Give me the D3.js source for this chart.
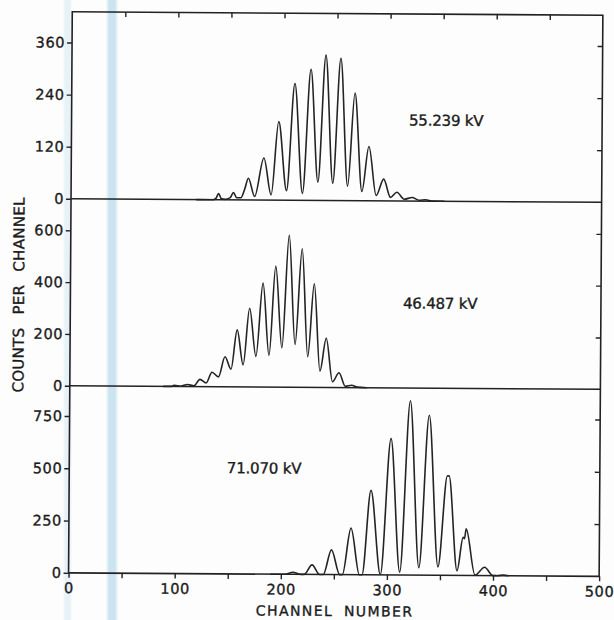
<!DOCTYPE html>
<html>
<head>
<meta charset="utf-8">
<script src="https://cdn.jsdelivr.net/npm/d3@7"></script>
<style>
  html, body { margin: 0; padding: 0; background: #ffffff; }
  svg { display: block; }
  text { font-family: "DejaVu Sans", "Liberation Sans", sans-serif; fill: #1b1b1b;
         stroke: #1b1b1b; stroke-width: 0.35px; }
</style>
</head>
<body>
<svg id="chart" width="614" height="620"></svg>
<script>
// ---- channel axis ----
const channelTicks = [0, 50, 100, 150, 200, 250, 300, 350, 400, 450, 500];
const channelLabels = [0, 100, 200, 300, 400, 500];

// ---- 55.239 kV spectrum ----
const spec55Channels = [118, 134, 136.5, 139, 141.5, 145, 150, 153, 156, 160, 163.5, 167, 173,
  181.5, 188.5, 195.3, 203, 210.3, 218, 225.4, 232.5, 239.4, 246.5, 253.5, 260.5, 267, 274,
  280.4, 287.5, 294.5, 301, 307, 314, 321.4, 328, 334, 341, 352];
const spec55Counts = [0, 0, 3, 14, 3, 1, 5, 17, 5, 5, 24, 50, 8,
  97, 12, 181, 22, 269, 16, 302, 42, 335, 40, 328, 33, 248, 21,
  125, 12, 50, 8, 20, 4, 8, 2, 3, 0, 0];
const spec55Ticks = [0, 120, 240, 360];

// ---- 46.487 kV spectrum ----
const spec46Channels = [88, 95, 98.4, 104.5, 110.9, 117, 122.6, 128.5, 133.9, 140, 146.1, 151.8,
  157.4, 163.2, 169, 175.2, 181.5, 187.5, 193.4, 199.6, 205.9, 212, 218.2, 224, 229.8, 235.6,
  241.4, 247.5, 253.6, 259.6, 265.6, 271, 280];
const spec46Counts = [0, 0, 4, 1, 8, 3, 28, 14, 56, 38, 116, 68,
  220, 85, 304, 118, 401, 122, 467, 152, 586, 165, 535, 118, 400, 63,
  190, 22, 57, 5, 9, 2, 0];
const spec46Ticks = [0, 200, 400, 600];

// ---- 71.070 kV spectrum ----
const spec71Channels = [190, 204, 211.4, 218.5, 222, 229.4, 236.5, 240, 247.6, 255.5, 258, 265.9,
  274, 276.5, 284.5, 293.8, 303.1, 312, 321.1, 330, 339, 348, 356.4, 358, 366, 371.6, 372.9,
  374.4, 383, 392, 400, 404, 409.5, 415];
const spec71Counts = [0, 0, 10, 0, 0, 46, 0, 0, 118, 0, 0, 223,
  0, 0, 404, 2, 652, 14, 834, 36, 765, 40, 476, 476, 22, 182, 176,
  223, 2, 40, 0, 0, 3, 0];
const spec71Ticks = [0, 250, 500, 750];

const voltageLabels = ["55.239 kV", "46.487 kV", "71.070 kV"];

// ---- layout ----
const W = 614, H = 620;
const plotLeft = 70.4, plotRight = 601;
const panelEdges = [13.5, 200.5, 387.5, 574.6];   // top of stack, two dividers, bottom
const frameColor = "#222";
const inkColor = "#1b1b1b";

const panels = [
  { channels: spec55Channels, counts: spec55Counts, ticks: spec55Ticks, yMax: 431,
    label: voltageLabels[0], labelAt: [318, 174] },
  { channels: spec46Channels, counts: spec46Counts, ticks: spec46Ticks, yMax: 722,
    label: voltageLabels[1], labelAt: [313.4, 307] },
  { channels: spec71Channels, counts: spec71Counts, ticks: spec71Ticks, yMax: 895,
    label: voltageLabels[2], labelAt: [148.5, 482] }
];

const svg = d3.select("#chart");

// background paper + the pale blue streaks running down the sheet
const defs = svg.append("defs");
const grad = defs.append("linearGradient").attr("id", "streak").attr("x1", 0).attr("x2", 1).attr("y1", 0).attr("y2", 0);
grad.append("stop").attr("offset", "0%").attr("stop-color", "#d6e9f5").attr("stop-opacity", 0.2);
grad.append("stop").attr("offset", "25%").attr("stop-color", "#cce3f2").attr("stop-opacity", 1);
grad.append("stop").attr("offset", "75%").attr("stop-color", "#cce3f2").attr("stop-opacity", 1);
grad.append("stop").attr("offset", "100%").attr("stop-color", "#d6e9f5").attr("stop-opacity", 0.2);

svg.append("rect").attr("width", W).attr("height", H).attr("fill", "#fdfdfd");
svg.append("rect").attr("x", 106).attr("y", 0).attr("width", 12).attr("height", H).attr("fill", "url(#streak)");
svg.append("rect").attr("x", 63).attr("y", 0).attr("width", 9).attr("height", H)
  .attr("fill", "url(#streak)").attr("opacity", 0.45);

// the whole sheet sits very slightly turned
const g = svg.append("g").attr("transform", "rotate(0.38, 335, 295)");

const x = d3.scaleLinear().domain([0, 500]).range([plotLeft, plotRight]);

function styleAxis(a) {
  a.select(".domain").remove();
  a.selectAll("line").attr("stroke", frameColor).attr("stroke-width", 1.4);
  a.selectAll("text").attr("font-size", 14.5).attr("letter-spacing", 0.6)
    .attr("font-family", "DejaVu Sans").attr("fill", inkColor);
}

panels.forEach((p, i) => {
  const y = d3.scaleLinear().domain([0, p.yMax]).range([panelEdges[i + 1], panelEdges[i]]);
  const pg = g.append("g");

  // left axis with labels, ticks outward
  const left = pg.append("g").attr("transform", `translate(${plotLeft},0)`)
    .call(d3.axisLeft(y).tickValues(p.ticks).tickSize(5).tickPadding(2).tickFormat(d3.format("d")));
  // right axis, ticks inward
  const right = pg.append("g").attr("transform", `translate(${plotRight},0)`)
    .call(d3.axisLeft(y).tickValues(p.ticks.filter(t => t > 0)).tickSize(5).tickFormat(""));
  styleAxis(left);
  styleAxis(right);

  // spectrum trace
  const pts = p.channels.map((c, k) => [c, p.counts[k]]);
  pg.append("path")
    .attr("d", d3.line().x(d => x(d[0])).y(d => y(d[1])).curve(d3.curveMonotoneX)(pts))
    .attr("fill", "none").attr("stroke", "#242424").attr("stroke-width", 1.6)
    .attr("stroke-linejoin", "round");

  // accelerating voltage
  pg.append("text").attr("x", x(p.labelAt[0])).attr("y", y(p.labelAt[1]))
    .attr("font-size", 15).attr("letter-spacing", -0.2).text(p.label);
});

// top axis: ticks pointing into the plot
const topAx = g.append("g").attr("transform", `translate(0,${panelEdges[0]})`)
  .call(d3.axisBottom(x).tickValues(channelTicks.filter(t => t > 0 && t < 500)).tickSize(5).tickFormat(""));
// bottom axis: ticks outward, labels every hundred channels
const botAx = g.append("g").attr("transform", `translate(0,${panelEdges[3]})`)
  .call(d3.axisBottom(x).tickValues(channelTicks).tickSize(5).tickPadding(5)
    .tickFormat(d => channelLabels.includes(d) ? d : ""));
styleAxis(topAx);
styleAxis(botAx);

// frame and panel dividers
g.append("rect").attr("x", plotLeft).attr("y", panelEdges[0])
  .attr("width", plotRight - plotLeft).attr("height", panelEdges[3] - panelEdges[0])
  .attr("fill", "none").attr("stroke", frameColor).attr("stroke-width", 1.6);
[panelEdges[1], panelEdges[2]].forEach(yy => {
  g.append("line").attr("x1", plotLeft).attr("x2", plotRight).attr("y1", yy).attr("y2", yy)
    .attr("stroke", frameColor).attr("stroke-width", 1.5);
});

// axis titles
g.append("text").attr("x", (x(0) + x(500)) / 2 + 1).attr("y", 616)
  .attr("text-anchor", "middle").attr("font-size", 14).attr("letter-spacing", 1.4)
  .attr("word-spacing", 5).text("CHANNEL NUMBER");
g.append("text").attr("transform", "translate(24,297) rotate(-90)")
  .attr("text-anchor", "middle").attr("font-size", 15).attr("letter-spacing", 0.3)
  .attr("word-spacing", 8).text("COUNTS PER CHANNEL");
</script>
</body>
</html>
